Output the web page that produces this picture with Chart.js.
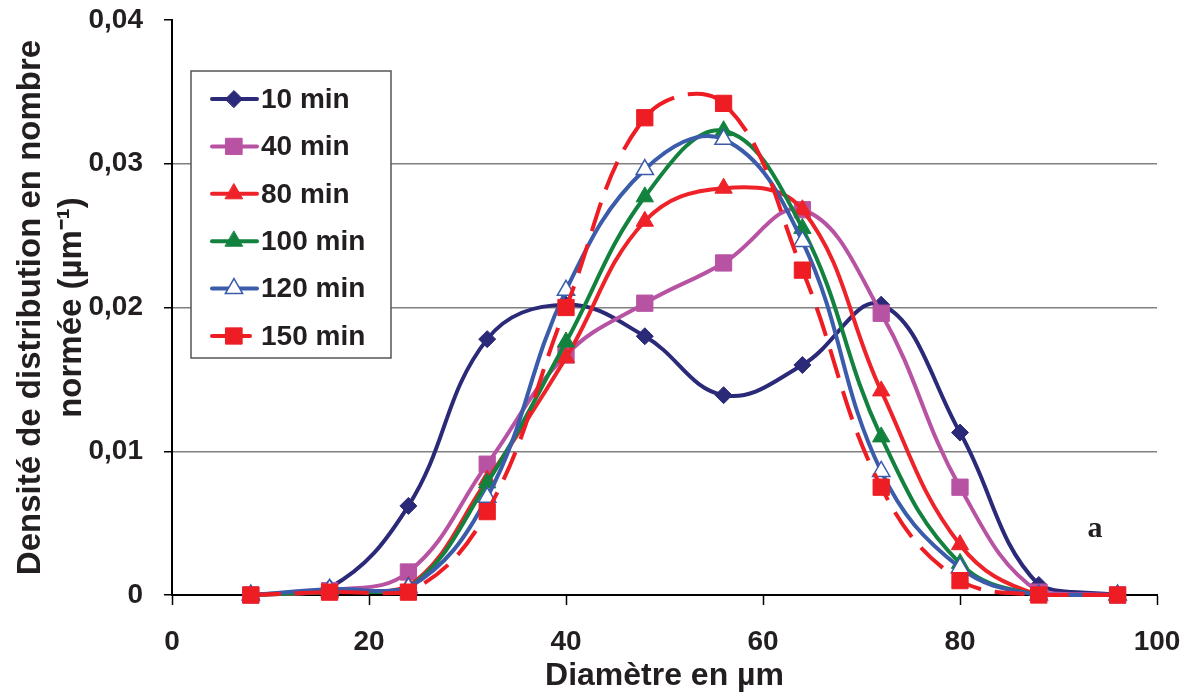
<!DOCTYPE html>
<html>
<head>
<meta charset="utf-8">
<script src="https://cdn.jsdelivr.net/npm/chart.js@4.4.1/dist/chart.umd.min.js"></script>
<style>
  html, body { margin: 0; padding: 0; background: #fff; }
  .wrap { width: 1188px; height: 695px; }
</style>
</head>
<body>
<div class="wrap"><canvas id="c" width="1188" height="695"></canvas></div>
<script>
const diameters = [8, 16, 24, 32, 40, 48, 56, 64, 72, 80, 88, 96];
const seriesNames = ['10 min', '40 min', '80 min', '100 min', '120 min', '150 min'];
const min10  = [0, 0.0005, 0.0062, 0.0178, 0.0202, 0.0180, 0.0139, 0.0160, 0.0202, 0.0113, 0.0007, 0];
const min40  = [0, 0.0003, 0.0016, 0.0091, 0.0167, 0.0203, 0.0231, 0.0268, 0.0196, 0.0075, 0.0002, 0];
const min80  = [0, 0.0002, 0.0006, 0.0080, 0.0165, 0.0260, 0.0283, 0.0268, 0.0142, 0.0035, 0, 0];
const min100 = [0, 0.0002, 0.0005, 0.0078, 0.0176, 0.0277, 0.0323, 0.0255, 0.0110, 0.0022, 0, 0];
const min120 = [0, 0.0004, 0.0005, 0.0068, 0.0212, 0.0296, 0.0317, 0.0246, 0.0086, 0.0019, 0, 0];
const min150 = [0, 0.0002, 0.0002, 0.0058, 0.0200, 0.0332, 0.0342, 0.0226, 0.0075, 0.0010, 0, 0];
const yTicks = [0, 0.01, 0.02, 0.03, 0.04];
const xTicks = [0, 20, 40, 60, 80, 100];

const FONT = '"Liberation Sans", Arial, sans-serif';
const TXT = '#231f20';

const styles = [
  { color: '#2b2a78', fill: '#2b2a78', style: 'rectRot', r: 8.5 },
  { color: '#b853a3', fill: '#b853a3', style: 'rect', r: 11.5 },
  { color: '#ee2229', fill: '#ee2229', style: 'triangle', r: 10 },
  { color: '#13823f', fill: '#13823f', style: 'triangle', r: 10 },
  { color: '#3a5caa', fill: '#ffffff', style: 'triangle', r: 10 },
  { color: '#ee1d24', fill: '#ee1d24', style: 'rect', r: 11.5, dash: [30, 14] },
];
const values = [min10, min40, min80, min100, min120, min150];

const datasets = values.map((v, i) => ({
  label: seriesNames[i],
  data: v.map((y, k) => ({ x: diameters[k], y })),
  borderColor: styles[i].color,
  borderWidth: 4,
  borderDash: styles[i].dash || [],
  backgroundColor: styles[i].fill,
  pointStyle: styles[i].style,
  pointRadius: styles[i].r,
  pointBackgroundColor: styles[i].fill,
  pointBorderColor: styles[i].color,
  pointBorderWidth: i === 4 ? 1.5 : 1,
  tension: 0.4,
  fill: false,
  order: values.length - i,
  clip: false,
}));

// legend box inside the plot + the "a" mark
const boxLegend = {
  id: 'boxLegend',
  afterDraw(chart) {
    const { ctx } = chart;
    ctx.save();
    ctx.fillStyle = '#fff';
    ctx.strokeStyle = '#555';
    ctx.lineWidth = 1.5;
    ctx.fillRect(191, 71, 200, 287);
    ctx.strokeRect(191, 71, 200, 287);
    chart.data.datasets.forEach((ds, i) => {
      const y = 99 + i * 47.4;
      ctx.setLineDash([]);
      ctx.strokeStyle = ds.borderColor;
      ctx.lineWidth = 4;
      ctx.lineCap = 'round';
      ctx.beginPath();
      ctx.moveTo(212, y);
      ctx.lineTo(i === 5 ? 250 : 257, y);
      ctx.stroke();
      ctx.fillStyle = ds.pointBackgroundColor;
      ctx.strokeStyle = ds.pointBorderColor;
      ctx.lineWidth = ds.pointBorderWidth;
      Chart.helpers.drawPoint(ctx, { pointStyle: ds.pointStyle, radius: ds.pointRadius, rotation: 0, borderWidth: ds.pointBorderWidth }, 234, y);
      ctx.fillStyle = TXT;
      ctx.font = 'bold 28px ' + FONT;
      ctx.textBaseline = 'middle';
      ctx.textAlign = 'left';
      ctx.fillText(ds.label, 261, y + 1);
    });
    ctx.fillStyle = TXT;
    ctx.font = 'bold 30px "Liberation Serif", "Times New Roman", serif';
    ctx.textAlign = 'center';
    ctx.textBaseline = 'alphabetic';
    ctx.fillText('a', 1095, 537);
    ctx.restore();
  }
};

new Chart(document.getElementById('c'), {
  type: 'line',
  data: { datasets },
  options: {
    responsive: false,
    animation: false,
    layout: { padding: { top: 20, right: 31, bottom: 0, left: 0 } },
    plugins: { legend: { display: false }, tooltip: { enabled: false } },
    scales: {
      x: {
        type: 'linear', min: 0, max: 100,
        afterFit: s => { s.height = 100; s.paddingLeft = 0; s.paddingRight = 0; },
        afterBuildTicks: s => { s.ticks = xTicks.map(v => ({ value: v })); },
        ticks: { color: TXT, font: { family: FONT, size: 28, weight: 'bold' }, padding: 20, maxRotation: 0 },
        grid: { drawOnChartArea: false, drawTicks: true, tickLength: 10, tickColor: '#000', tickWidth: 1.5 },
        border: { color: '#000', width: 2 },
        title: { display: true, text: 'Diamètre en µm', color: TXT, font: { family: FONT, size: 32, weight: 'bold' }, padding: { top: 0, bottom: 0 } },
      },
      y: {
        min: 0, max: 0.04,
        afterFit: s => { s.width = 172; s.paddingTop = 0; s.paddingBottom = 0; },
        afterBuildTicks: s => { s.ticks = yTicks.map(v => ({ value: v })); },
        ticks: {
          color: TXT, font: { family: FONT, size: 28, weight: 'bold' }, padding: 21,
          callback: v => v === 0 ? '0' : v.toFixed(2).replace('.', ','),
        },
        grid: {
          color: c => (c.tick && c.tick.value >= 0.04) ? 'rgba(0,0,0,0)' : '#808080',
          lineWidth: 1.5, tickLength: 8, tickColor: '#000', tickWidth: 1.5,
        },
        border: { color: '#000', width: 2 },
        title: {
          display: true,
          text: ['Densité de distribution en nombre', 'normée (µm⁻¹)'],
          color: TXT, font: { family: FONT, size: 33, weight: 'bold', lineHeight: 1.25 },
          padding: { top: 10, bottom: 0 },
        },
      },
    },
  },
  plugins: [boxLegend],
});
</script>
</body>
</html>
